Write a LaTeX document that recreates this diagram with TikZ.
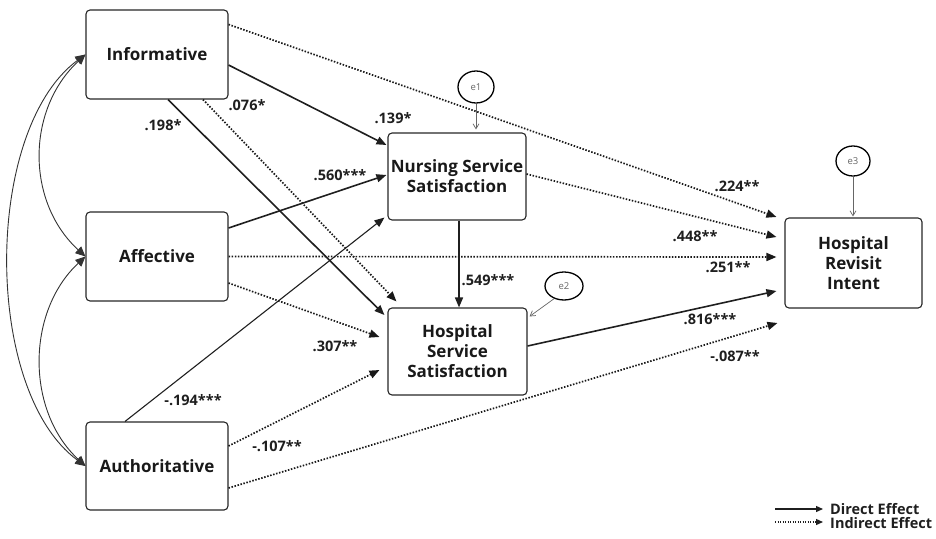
\documentclass[tikz,border=0pt]{standalone}
\usepackage{fontspec}
\setmainfont{Open Sans}
\usetikzlibrary{arrows.meta,calc,shapes.geometric}
\begin{document}
\begin{tikzpicture}[x=1pt,y=-1pt,
 box/.style={draw=black!85,line width=1.1pt,rounded corners=4pt,align=center,font=\fontsize{17}{20}\selectfont\bfseries,inner sep=0pt,text=black!90},
 dir/.style={draw=black!88,line width=1.6pt,-{Triangle[length=10pt,width=8pt]}},
 thin dir/.style={draw=black!88,line width=1.1pt,-{Triangle[length=10pt,width=8pt]}},
 ind/.style={draw=black!90,line width=1.7pt,dash pattern=on 1.5pt off 1.6pt,-{Triangle[length=10pt,width=8pt]}},
 lab/.style={font=\fontsize{14.5}{16}\selectfont\bfseries,inner sep=0pt,text=black!88},
 err/.style={ellipse,draw=black,line width=1.3pt,inner sep=0pt,font=\fontsize{9.5}{10}\selectfont,text=black!60},
 erra/.style={draw=black!60,line width=0.7pt,-{Straight Barb[length=5pt,width=6pt]}},
 cov/.style={draw=black!80,line width=0.9pt,{Triangle[length=10pt,width=9pt]}-{Triangle[length=10pt,width=9pt]}},
 legtxt/.style={font=\fontsize{14.5}{15}\selectfont\bfseries,inner sep=0pt,anchor=west,text=black!88}
]
\useasboundingbox (0,0) rectangle (936,538);

% boxes
\node[box,minimum width=142pt,minimum height=89pt] (inf) at (157,54.5) {Informative};
\node[box,minimum width=142pt,minimum height=89pt] (aff) at (157,256.5) {Affective};
\node[box,minimum width=142pt,minimum height=88pt] (aut) at (157,466) {Authoritative};
\node[box,minimum width=138pt,minimum height=87pt] (nur) at (457,176.5) {Nursing Service\\Satisfaction};
\node[box,minimum width=139pt,minimum height=87pt] (hos) at (457.5,351.5) {Hospital\\Service\\Satisfaction};
\node[box,minimum width=137pt,minimum height=90pt] (rev) at (853.5,263) {Hospital\\Revisit\\Intent};

% error terms
\node[err,minimum width=36pt,minimum height=32pt] (e1) at (476,87) {e1};
\node[err,minimum width=38pt,minimum height=28pt] (e2) at (564,286) {e2};
\node[err,minimum width=34pt,minimum height=30pt] (e3) at (853,161) {e3};
\draw[erra] (e1.south) -- ($(e1.south |- nur.north)+(0,-3)$);
\draw[erra] (e2.232) -- ($(hos.north east)+(2,9)$);
\draw[erra] (e3.south) -- ($(e3.south |- rev.north)+(0,-1)$);

% covariances
\draw[cov] (inf.west) .. controls (26,110) and (26,202) .. (aff.west);
\draw[cov] (inf.west) .. controls (-17,130) and (-17,391) .. (aut.west);
\draw[cov] (aff.west) .. controls (26,312) and (26,411) .. (aut.west);

% paths
\draw[dir] ($(inf.east)+(0,10.5)$) -- ($(nur.west)+(-1,-31.5)$);
\draw[dir] ($(inf.south)+(11,0)$) -- ($(hos.west)+(-3,-36.5)$);
\draw[ind] ($(inf.south)+(46,0)$) -- ($(hos.north west)+(9,-6)$);
\draw[ind] ($(inf.north east)+(0,15)$) -- ($(rev.west)+(-8,-46)$);
\draw[dir] ($(aff.east)+(0,-28.5)$) -- ($(nur.west)+(-1,-1.5)$);
\draw[ind] (aff.east) -- ($(rev.west)+(-8,-6)$);
\draw[ind] ($(aff.east)+(0,26.5)$) -- ($(hos.west)+(-8,-14.5)$);
\draw[thin dir] ($(aut.north)+(-32,0)$) -- ($(nur.south west)+(-3,-3)$);
\draw[ind] ($(aut.east)+(0,-20)$) -- ($(hos.west)+(-8,18.5)$);
\draw[ind] ($(aut.east)+(0,22)$) -- ($(rev.west)+(-7,60)$);
\draw[dir] ($(nur.south)+(2,0)$) -- ($(nur.south |- hos.north)+(2,0)$);
\draw[ind] ($(nur.east)+(0,-2.5)$) -- ($(rev.west)+(-8,-26)$);
\draw[dir] ($(hos.east)+(0,-5.5)$) -- ($(rev.west)+(-8,28)$);

% labels
\node[lab] (l1) at (393,118) {.139*};
\node[lab] (l2) at (163,125) {.198*};
\node[lab] (l3) at (247,105) {.076*};
\node[lab] (l4) at (737,186) {.224**};
\node[lab] (l5) at (340,175) {.560***};
\node[lab] (l6) at (728,267) {.251**};
\node[lab] (l7) at (335,346) {.307**};
\node[lab] (l8) at (193,400) {-.194***};
\node[lab] (l9) at (277,446) {-.107**};
\node[lab] (l10) at (735,356) {-.087**};
\node[lab] (l11) at (488,280) {.549***};
\node[lab] (l12) at (695,236) {.448**};
\node[lab] (l13) at (710,319) {.816***};

% legend
\coordinate (da) at (775,509);
\coordinate (db) at (823,509);
\coordinate (ia) at (775,522);
\coordinate (ib) at (823,522);
\draw[draw=black!88,line width=1.3pt,-{Triangle[length=7pt,width=6pt]}] (da) -- (db);
\draw[draw=black!88,line width=1.2pt,dash pattern=on 1.2pt off 1.3pt,-{Triangle[length=7pt,width=6pt]}] (ia) -- (ib);
\node[legtxt] (dt) at (830,509) {Direct Effect};
\node[legtxt] (it) at (830,523) {Indirect Effect};
\end{tikzpicture}
\end{document}
